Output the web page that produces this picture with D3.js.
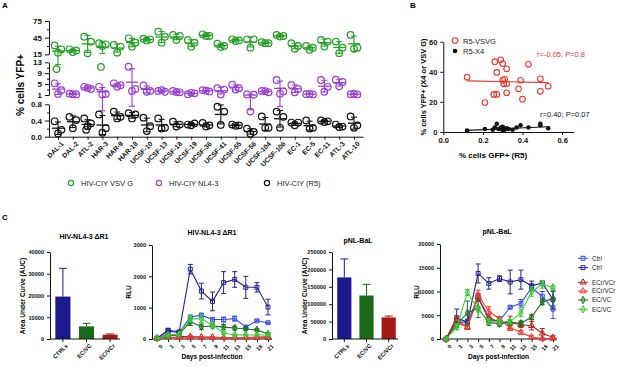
<!DOCTYPE html>
<html>
<head>
<meta charset="utf-8">
<script src="https://cdn.jsdelivr.net/npm/d3@7"></script>
<style>
  body { margin: 0; background: #fff; }
  svg { font-family: "Liberation Sans", Arial, sans-serif; }
</style>
</head>
<body>
<div id="chart"></div>
<script>
// ---------- panel A : % YFP+ per donor ----------
const donors = ["DAL-1", "DAL-2", "ATL-2", "HAR-3", "HAR-9", "HAR-18", "UCSF-10", "UCSF-13", "UCSF-18", "UCSF-19",
    "UCSF-36", "UCSF-41", "UCSF-55", "UCSF-56", "UCSF-104", "UCSF-106", "EC-1", "EC-5", "EC-11", "ATL-3", "ATL-10"];
const vsvgValues = [[31, 24, 18, 10.5], [24, 22, 19], [46.7, 37.7, 16.8], [35, 33, 30, 11.3], [31.8, 29, 18], [43.8, 35.9, 28.7],
    [43, 42, 40], [55.7, 46.7, 35.9], [49.8, 48, 40.8], [40.8, 35.9, 28.7], [51, 48, 48], [34, 30, 28], [42, 40, 39],
    [42, 42, 27], [37, 35, 35], [50, 48, 47], [35, 30, 25], [30, 27, 23], [41, 38, 29], [38, 27, 17], [50, 27, 25]];
const nl43Values = [[5.3, 2.8, 1.4], [1.5, 1.2, 1.3], [4, 3.2, 3.6], [4, 1.4, 1.2], [5.3, 4.6, 4], [11.4, 3.2, 2.5],
    [4.5, 2.5, 2.2], [2.5, 2.2, 2.8], [2.5, 2, 2.1], [1.3, 1.6, 1.8], [2.8, 2.3, 2.6], [3.5, 3, 1.2], [4.8, 3.5, 3],
    [1.2, 1.1, 0.62], [2.5, 2, 2.4], [6.5, 2.3, 1.5], [4.7, 3.2, 2], [1.3, 1.2, 1.4], [6.5, 4, 2.2], [6.6, 5.8, 4.2], [1.3, 1.2, 1.4]];
const r5Values = [[0.38, 0.17, 0.08], [0.49, 0.41, 0.21], [0.45, 0.33, 0.26, 0.17], [0.55, 0.21, 0.1], [0.62, 0.49, 0.45],
    [0.58, 0.55, 0.45], [0.47, 0.26, 0.14], [0.45, 0.22, 0.2], [0.37, 0.3, 0.25], [0.3, 0.33, 0.28], [0.34, 0.28, 0.25],
    [0.74, 0.62, 0.29], [0.3, 0.28, 0.27], [0.2, 0.12, 0.07], [0.5, 0.22, 0.22], [0.62, 0.49, 0.22], [0.35, 0.35, 0.28],
    [0.4, 0.22, 0.2], [0.4, 0.38, 0.36], [0.3, 0.25, 0.24], [0.5, 0.28, 0.22]];
const legendA = ["HIV-CIY VSV G", "HIV-CIY NL4-3", "HIV-CIY (R5)"];

// ---------- panel B : correlation ----------
const vsvgGfp = [0.12, 0.21, 0.255, 0.27, 0.26, 0.27, 0.29, 0.3, 0.3, 0.305, 0.31, 0.32, 0.32, 0.32, 0.38, 0.39, 0.4, 0.43, 0.49, 0.49, 0.53];
const vsvgYfp = [36.4, 19.6, 25, 25, 46.7, 39.6, 48, 45.5, 34.4, 32, 35, 32, 26, 42, 28.7, 34.4, 21.8, 45, 35.3, 27, 30.4];
const x4Gfp = [0.12, 0.21, 0.25, 0.26, 0.27, 0.28, 0.29, 0.3, 0.3, 0.31, 0.32, 0.35, 0.37, 0.39, 0.43, 0.49, 0.49, 0.53, 0.3, 0.33];
const x4Yfp = [1, 2, 1.5, 3, 5.5, 2, 3, 1, 2, 1.5, 2.5, 1.5, 3, 4.5, 3, 5.5, 4.5, 2.5, 3.5, 2];
const fitX = [0.12, 0.53];
const fitVsvg = [34, 32.8];
const fitX4 = [1.1, 3.5];

// ---------- panel C : AUC bars and kinetics ----------
const aucGroups = ["CTRLs", "EC/VC", "EC/VCr"];
const aucNL43 = [19500, 5800, 2000];
const aucNL43Err = [13000, 1400, 300];
const aucBaL = [177000, 125000, 62000];
const aucBaLErr = [53000, 32000, 4000];

const days = ["0", "1", "3", "5", "7", "9", "11", "13", "15", "18", "21"];
const seriesNames = ["Ctrl", "Ctrl", "ECr/VCr", "ECr/VCr", "EC/VC", "EC/VC"];
const nl43Series = [
    [20, 250, 200, 700, 760, 620, 620, 650, 380, 580, 520],
    [30, 280, 230, 2230, 1530, 1200, 1800, 1900, 1650, 1650, 1020],
    [20, 150, 80, 80, 60, 50, 40, 40, 40, 40, 40],
    [10, 60, 50, 60, 60, 60, 40, 40, 50, 60, 80],
    [20, 100, 150, 550, 390, 420, 380, 350, 320, 290, 160],
    [20, 130, 150, 650, 640, 450, 190, 130, 130, 130, 130]];
const nl43Err = [
    [10, 40, 40, 60, 60, 50, 80, 80, 40, 30, 20],
    [10, 50, 40, 150, 250, 300, 350, 250, 350, 150, 250],
    [5, 30, 20, 20, 10, 10, 10, 10, 10, 10, 10],
    [5, 20, 10, 10, 10, 10, 10, 10, 10, 10, 10],
    [5, 40, 40, 120, 80, 60, 80, 60, 40, 40, 40],
    [5, 40, 40, 100, 120, 80, 40, 30, 20, 20, 20]];
const balSeries = [
    [0, 3500, 3600, 8700, 4000, 3800, 6700, 7500, 10800, 9000, 6300],
    [0, 4500, 3500, 13800, 11700, 12700, 12000, 12500, 11200, 11800, 8300],
    [0, 4000, 2500, 8800, 4500, 3500, 3500, 3000, 2800, 1200, 300],
    [0, 3500, 2500, 9300, 5800, 4200, 2300, 1400, 400, 100, 100],
    [0, 3000, 5500, 6500, 3500, 3200, 3500, 3300, 4600, 7800, 8500],
    [0, 2500, 9800, 6300, 3700, 3600, 3700, 5500, 10000, 11500, 10900]];
const balErr = [
    [0, 500, 600, 700, 500, 400, 300, 800, 700, 1000, 2000],
    [0, 1800, 500, 2000, 1200, 600, 2500, 2000, 1000, 500, 2000],
    [0, 600, 500, 800, 600, 500, 1300, 600, 900, 1000, 400],
    [0, 500, 500, 1000, 1000, 500, 500, 400, 300, 100, 100],
    [0, 600, 2500, 2000, 600, 500, 600, 500, 500, 600, 1500],
    [0, 500, 600, 600, 500, 500, 400, 800, 1000, 800, 300]];

// ---------- drawing ----------
const colGreen = "#24a024", colPurple = "#9b3fd0", colRed = "#e8362e";
const seriesColors = ["#3a4ee6", "#23238e", "#b02020", "#f03a32", "#1f6f1f", "#3ccc3c"];
const seriesShapes = [d3.symbolSquare, d3.symbolSquare, d3.symbolTriangle, d3.symbolTriangle, d3.symbolDiamond, d3.symbolDiamond];

let svg = d3.select("#chart").append("svg")
    .attr("width", 617)
    .attr("height", 367);

function styleAxis(g, size) {
    g.selectAll("text").attr("font-size", size).attr("font-weight", "bold").attr("fill", "#111");
    g.selectAll("line").attr("stroke", "#111");
    g.select(".domain").attr("stroke", "#111").attr("stroke-width", 1);
}

function panelLabel(t, x, y) {
    svg.append("text").text(t).attr("x", x).attr("y", y)
        .attr("font-size", 8).attr("font-weight", "bold");
}

// ===== A =====
panelLabel("A", 2, 8);

let xA = d3.scalePoint().domain(donors).range([49, 363]).padding(0.61);
let segTop = d3.scaleLinear().domain([15, 75]).range([54.3, 21]);
let segMid = d3.scaleLinear().domain([1, 13]).range([95, 62.3]);
let segLow = d3.scaleLinear().domain([0, 0.8]).range([136.7, 104.3]);
function yA(v) {
    if (v >= 14) return segTop(v);
    if (v >= 0.9) return segMid(v);
    return segLow(v);
}

[[segTop, [15, 45, 75], [30, 60], d3.format("d")],
 [segMid, [1, 5, 9, 13], [3, 7, 11], d3.format("d")],
 [segLow, [0, 0.4, 0.8], [0.2, 0.6], d3.format(".1f")]].forEach(s => {
    let g = svg.append("g").attr("transform", "translate(49,0)")
        .call(d3.axisLeft(s[0]).tickValues(s[1]).tickSize(4).tickSizeOuter(0).tickFormat(s[3]));
    styleAxis(g, 8);
    let m = svg.append("g").attr("transform", "translate(49,0)")
        .call(d3.axisLeft(s[0]).tickValues(s[2]).tickSize(2).tickFormat(""));
    m.select(".domain").remove();
    m.selectAll("line").attr("stroke", "#111");
});

let gxA = svg.append("g").attr("transform", "translate(0,136.7)")
    .call(d3.axisBottom(xA).tickSize(3).tickSizeOuter(0));
styleAxis(gxA, 6.8);
gxA.selectAll("text")
    .attr("text-anchor", "end")
    .attr("dx", "-0.2em").attr("dy", "0.5em")
    .attr("transform", "rotate(-45)");

svg.append("text").text("% cells YFP+")
    .attr("transform", "translate(24,85) rotate(-90)")
    .attr("text-anchor", "middle").attr("font-size", 10).attr("font-weight", "bold");

function drawGroups(values, color) {
    let jitter = [-3.4, 3.4, 0, -1.5];
    values.forEach((vals, i) => {
        let cx = xA(donors[i]);
        let mean = d3.mean(vals), sd = d3.deviation(vals);
        let g = svg.append("g").attr("stroke", color).attr("fill", "none");
        g.append("line").attr("x1", cx).attr("x2", cx)
            .attr("y1", yA(mean + sd)).attr("y2", yA(mean - sd)).attr("stroke-width", 1.1);
        [mean + sd, mean - sd].forEach(v => {
            g.append("line").attr("x1", cx - 3).attr("x2", cx + 3)
                .attr("y1", yA(v)).attr("y2", yA(v)).attr("stroke-width", 1.1);
        });
        g.append("line").attr("x1", cx - 6).attr("x2", cx + 6)
            .attr("y1", yA(mean)).attr("y2", yA(mean)).attr("stroke-width", 1.3);
        g.selectAll("circle").data(vals).join("circle")
            .attr("cx", (d, j) => cx + jitter[j])
            .attr("cy", d => yA(d))
            .attr("r", 3.3)
            .attr("stroke-width", 1.2);
    });
}
drawGroups(vsvgValues, colGreen);
drawGroups(nl43Values, colPurple);
drawGroups(r5Values, "#111");

let legA = [[71, colGreen], [159, colPurple], [267, "#111"]];
legendA.forEach((t, i) => {
    svg.append("circle").attr("cx", legA[i][0]).attr("cy", 183).attr("r", 2.6)
        .attr("fill", "none").attr("stroke", legA[i][1]).attr("stroke-width", 1.2);
    svg.append("text").text(t).attr("x", legA[i][0] + 10).attr("y", 186)
        .attr("font-size", 7.5).attr("fill", "#222");
});

// ===== B =====
panelLabel("B", 410, 8);

let xB = d3.scaleLinear().domain([0, 0.66]).range([443.3, 574]);
let yB = d3.scaleLinear().domain([0, 60]).range([132, 41.7]);

let gxB = svg.append("g").attr("transform", "translate(0,132)")
    .call(d3.axisBottom(xB).tickValues([0, 0.2, 0.4, 0.6]).tickFormat(d3.format(".1f")).tickSize(3).tickSizeOuter(0));
styleAxis(gxB, 7.5);
let gyB = svg.append("g").attr("transform", "translate(443.3,0)")
    .call(d3.axisLeft(yB).tickValues([0, 20, 40, 60]).tickSize(3).tickSizeOuter(0));
styleAxis(gyB, 7.5);

svg.append("text").text("% cells GFP+ (R5)")
    .attr("x", 493).attr("y", 158).attr("text-anchor", "middle")
    .attr("font-size", 8).attr("font-weight", "bold");
svg.append("text").text("% cells YFP+ (X4 or VSV G)")
    .attr("transform", "translate(426,87) rotate(-90)")
    .attr("text-anchor", "middle").attr("font-size", 7.5).attr("font-weight", "bold");

svg.append("line")
    .attr("x1", xB(fitX[0])).attr("x2", xB(fitX[1]))
    .attr("y1", yB(fitVsvg[0])).attr("y2", yB(fitVsvg[1]))
    .attr("stroke", colRed).attr("stroke-width", 1.1);
svg.append("line")
    .attr("x1", xB(fitX[0])).attr("x2", xB(fitX[1]))
    .attr("y1", yB(fitX4[0])).attr("y2", yB(fitX4[1]))
    .attr("stroke", "#111").attr("stroke-width", 1.1);

svg.append("g").selectAll("circle").data(vsvgGfp).join("circle")
    .attr("cx", d => xB(d))
    .attr("cy", (d, i) => yB(vsvgYfp[i]))
    .attr("r", 2.8).attr("fill", "none").attr("stroke", colRed).attr("stroke-width", 1.1);
svg.append("g").selectAll("circle").data(x4Gfp).join("circle")
    .attr("cx", d => xB(d))
    .attr("cy", (d, i) => yB(x4Yfp[i]))
    .attr("r", 2.3).attr("fill", "#111");

svg.append("circle").attr("cx", 455).attr("cy", 40.5).attr("r", 2.8)
    .attr("fill", "none").attr("stroke", colRed).attr("stroke-width", 1.1);
svg.append("text").text("R5-VSVG").attr("x", 463).attr("y", 43.5).attr("font-size", 7.5).attr("fill", "#222");
svg.append("circle").attr("cx", 455).attr("cy", 51).attr("r", 2.3).attr("fill", "#111");
svg.append("text").text("R5-X4").attr("x", 463).attr("y", 54).attr("font-size", 7.5).attr("fill", "#222");

svg.append("text").text("r=-0.05; P=0.8").attr("x", 537).attr("y", 57)
    .attr("font-size", 7.5).attr("fill", colRed);
svg.append("text").text("r=0.40; P=0.07").attr("x", 540).attr("y", 117)
    .attr("font-size", 7.5).attr("fill", "#111");

// ===== C =====
panelLabel("C", 2, 220);

function drawAuc(values, errs, title, x0, x1, xEnd, yMax, tickStep, titleX, titleY) {
    let x = d3.scaleBand().domain(aucGroups).range([x0 + 3, x1]).paddingInner(0.36).paddingOuter(0.1);
    let y = d3.scaleLinear().domain([0, yMax]).range([339, 252]);
    let colors = ["#1b1b8e", "#1a6a1a", "#a31818"];

    let gy = svg.append("g").attr("transform", `translate(${x0},0)`)
        .call(d3.axisLeft(y).tickValues(d3.range(0, yMax + 1, tickStep)).tickFormat(d3.format("d")).tickSize(3).tickSizeOuter(0));
    styleAxis(gy, 5.6);

    svg.append("g").selectAll("rect").data(values).join("rect")
        .attr("x", (d, i) => x(aucGroups[i]))
        .attr("y", d => y(d))
        .attr("width", x.bandwidth())
        .attr("height", d => 339 - y(d))
        .attr("fill", (d, i) => colors[i]);

    values.forEach((v, i) => {
        let cx = x(aucGroups[i]) + x.bandwidth() / 2;
        svg.append("line").attr("x1", cx).attr("x2", cx).attr("y1", y(v)).attr("y2", y(v + errs[i]))
            .attr("stroke", colors[i]).attr("stroke-width", 1);
        svg.append("line").attr("x1", cx - 4).attr("x2", cx + 4).attr("y1", y(v + errs[i])).attr("y2", y(v + errs[i]))
            .attr("stroke", colors[i]).attr("stroke-width", 1);
    });

    let gx = svg.append("g").attr("transform", "translate(0,339)")
        .call(d3.axisBottom(x).tickSize(3).tickSizeOuter(0));
    styleAxis(gx, 5.8);
    gx.select(".domain").attr("d", `M${x0},0H${xEnd}`);
    gx.selectAll("text").attr("text-anchor", "end")
        .attr("dx", "-0.2em").attr("dy", "0.5em").attr("transform", "rotate(-45)");

    svg.append("text").text(title).attr("x", titleX).attr("y", titleY)
        .attr("text-anchor", "middle").attr("font-size", 7).attr("font-weight", "bold");
    svg.append("text").text("Area Under Curve (AUC)")
        .attr("transform", `translate(${x0 - 25},296) rotate(-90)`)
        .attr("text-anchor", "middle").attr("font-size", 6.6).attr("font-weight", "bold");
}

function drawKinetics(series, errs, title, x0, xFirst, xLast, xEnd, yTop, yMax, tickStep, titleX, titleY) {
    let x = d3.scalePoint().domain(days).range([xFirst, xLast]);
    let y = d3.scaleLinear().domain([0, yMax]).range([339, yTop]);

    let gy = svg.append("g").attr("transform", `translate(${x0},0)`)
        .call(d3.axisLeft(y).tickValues(d3.range(0, yMax + 1, tickStep)).tickFormat(d3.format("d")).tickSize(3).tickSizeOuter(0));
    styleAxis(gy, 5.6);
    let gx = svg.append("g").attr("transform", "translate(0,339)")
        .call(d3.axisBottom(x).tickSize(3).tickSizeOuter(0));
    styleAxis(gx, 5.6);
    gx.select(".domain").attr("d", `M${x0},0H${xEnd}`);
    gx.selectAll("text").attr("text-anchor", "end")
        .attr("dx", "-0.3em").attr("dy", "0.6em").attr("transform", "rotate(-45)");

    let line = d3.line().x((d, i) => x(days[i])).y(d => y(d));
    series.forEach((vals, s) => {
        let c = seriesColors[s];
        let g = svg.append("g");
        vals.forEach((v, i) => {
            let cx = x(days[i]);
            g.append("line").attr("x1", cx).attr("x2", cx).attr("y1", y(v + errs[s][i])).attr("y2", y(Math.max(0, v - errs[s][i])))
                .attr("stroke", c).attr("stroke-width", 1);
            [v + errs[s][i], Math.max(0, v - errs[s][i])].forEach(e => {
                g.append("line").attr("x1", cx - 2.5).attr("x2", cx + 2.5).attr("y1", y(e)).attr("y2", y(e))
                    .attr("stroke", c).attr("stroke-width", 1);
            });
        });
        g.append("path").datum(vals).attr("d", line)
            .attr("fill", "none").attr("stroke", c).attr("stroke-width", 1.1);
        g.selectAll("path.pt").data(vals).join("path").attr("class", "pt")
            .attr("d", d3.symbol().type(seriesShapes[s]).size(16))
            .attr("transform", (d, i) => `translate(${x(days[i])},${y(d)})`)
            .attr("fill", s === 4 || s === 5 ? c : "none").attr("fill-opacity", 0.35)
            .attr("stroke", c).attr("stroke-width", 1);
    });

    svg.append("text").text(title).attr("x", titleX).attr("y", titleY)
        .attr("text-anchor", "middle").attr("font-size", 7).attr("font-weight", "bold");
    svg.append("text").text("Days post-infection").attr("x", (x0 + xEnd) / 2).attr("y", 359)
        .attr("text-anchor", "middle").attr("font-size", 6.6).attr("font-weight", "bold");
    svg.append("text").text("RLU")
        .attr("transform", `translate(${x0 - 21},292) rotate(-90)`)
        .attr("text-anchor", "middle").attr("font-size", 6.6).attr("font-weight", "bold");
}

drawAuc(aucNL43, aucNL43Err, "HIV-NL4-3 \u0394R1", 50, 120, 120, 40000, 10000, 84, 239);
drawKinetics(nl43Series, nl43Err, "HIV-NL4-3 \u0394R1", 152, 157, 268, 272, 245, 3000, 1000, 212, 235);
drawAuc(aucBaL, aucBaLErr, "pNL-BaL", 332, 398, 398, 250000, 50000, 358, 243);
drawKinetics(balSeries, balErr, "pNL-BaL", 440, 446, 553, 557, 244, 20000, 5000, 497, 234);

// legend for kinetics
let legY = [258.3, 267.7, 282.3, 291, 300, 309.3];
seriesNames.forEach((t, s) => {
    let c = seriesColors[s];
    svg.append("line").attr("x1", 578).attr("x2", 588).attr("y1", legY[s]).attr("y2", legY[s])
        .attr("stroke", c).attr("stroke-width", 1);
    svg.append("path").attr("d", d3.symbol().type(seriesShapes[s]).size(16))
        .attr("transform", `translate(583,${legY[s]})`)
        .attr("fill", s >= 4 ? c : "none").attr("fill-opacity", 0.35)
        .attr("stroke", c).attr("stroke-width", 1);
    svg.append("text").text(t).attr("x", 592).attr("y", legY[s] + 2.3)
        .attr("font-size", 6.3).attr("fill", "#222");
});
</script>
</body>
</html>
